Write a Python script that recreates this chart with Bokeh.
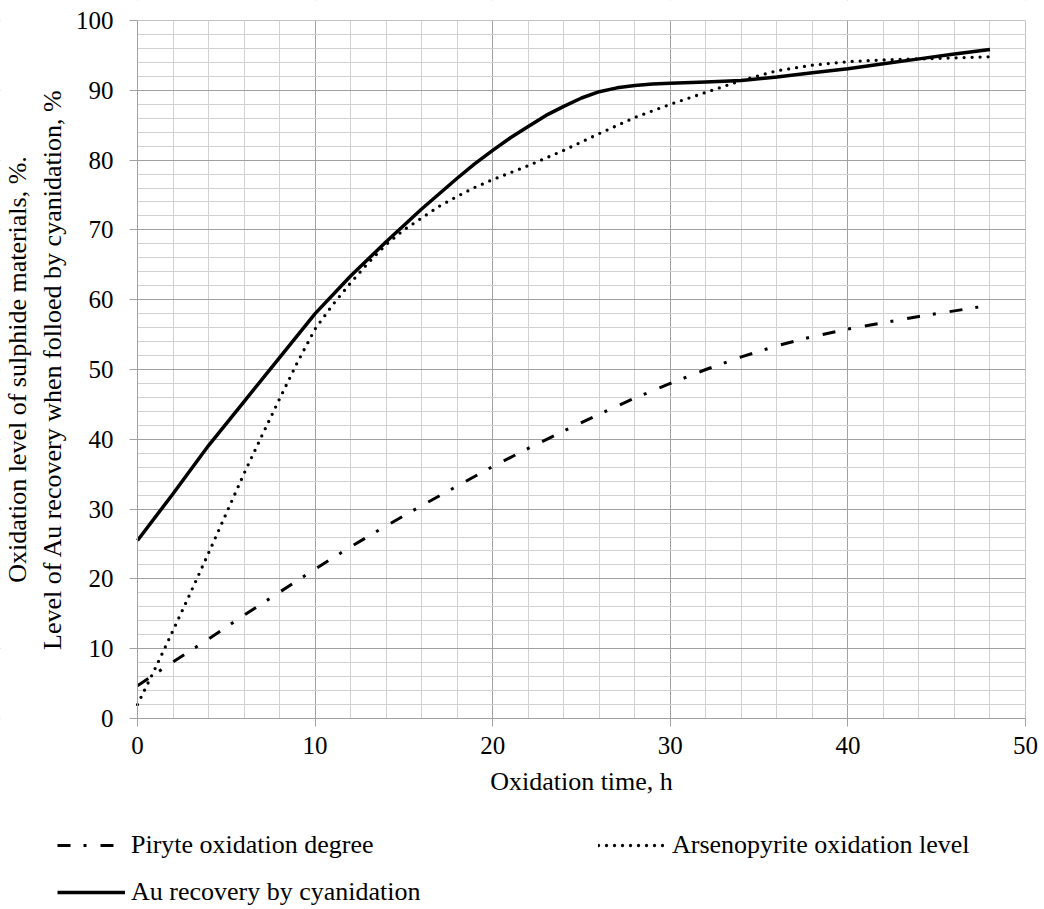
from bokeh.plotting import figure
from bokeh.models import Legend, LegendItem, SingleIntervalTicker, BoxAnnotation
from bokeh.embed import file_html
from bokeh.resources import INLINE

# Pyrite oxidation degree (dash-dot)
pyrite_t = [0, 2, 4, 6, 8, 10, 12, 14, 16, 18, 20, 22, 24, 26, 28, 30, 32, 34, 36, 38, 40, 42, 44, 46, 48]
pyrite_v = [4.7, 8.1, 11.4, 14.8, 18.1, 21.4, 24.6, 27.6, 30.5, 33.3, 36.1, 38.7, 41.2, 43.6, 45.9, 48.0,
            50.0, 51.8, 53.4, 54.7, 55.8, 56.7, 57.6, 58.4, 59.2]

# Arsenopyrite oxidation level (dotted)
arseno_t = [0, 1, 2, 3, 4, 5, 6, 7, 8, 9, 10, 11, 12, 13, 14, 15, 16, 17, 18, 19, 20, 22, 24, 26, 28, 30,
            32, 34, 36, 38, 40, 42, 44, 46, 48]
arseno_v = [2.0, 7.2, 12.6, 18.1, 23.7, 29.4, 35.1, 40.5, 45.8, 51.0, 55.8, 59.3, 62.4, 65.3, 67.9, 70.0,
            71.7, 73.4, 74.8, 76.1, 77.2, 79.2, 81.4, 83.8, 86.1, 88.0, 89.7, 91.4, 92.8, 93.6, 94.1,
            94.35, 94.5, 94.65, 94.8]

# Au recovery by cyanidation (solid)
au_t = [0, 2, 4, 6, 8, 10, 12, 14, 16, 18, 19, 20, 21, 22, 23, 24, 25, 26, 27, 28, 29, 30, 32, 34, 36, 38,
        40, 42, 44, 46, 48]
au_v = [25.5, 32.2, 39.1, 45.4, 51.7, 58.0, 63.4, 68.3, 73.0, 77.4, 79.5, 81.4, 83.2, 84.8, 86.4, 87.7,
        88.9, 89.8, 90.35, 90.7, 90.9, 91.0, 91.2, 91.4, 91.9, 92.5, 93.1, 93.8, 94.5, 95.2, 95.85]

x_label = "Oxidation time, h"
y_label = "Oxidation level of sulphide materials, %.\nLevel of Au recovery when folloed by cyanidation, %"
names = ["Piryte oxidation degree", "Arsenopyrite oxidation level", "Au recovery by cyanidation"]

FONT = "Liberation Serif"

# Layout (pixels): the frame covers the whole canvas so that tick labels, axis titles and the
# legend keys around the data area are not clipped; the data area spans 0..50 x 0..100.
W, H = 1044, 909
AREA_LEFT, AREA_RIGHT = 137, 1025    # data-area edges (canvas px)
AREA_TOP, AREA_BOTTOM = 20, 718
px_per_x = (AREA_RIGHT - AREA_LEFT) / 50.0
px_per_y = (AREA_BOTTOM - AREA_TOP) / 100.0
x_lo = -AREA_LEFT / px_per_x
x_hi = 50 + (W - AREA_RIGHT) / px_per_x
y_lo = -(H - AREA_BOTTOM) / px_per_y
y_hi = 100 + AREA_TOP / px_per_y

p = figure(width=W, height=H, x_range=(x_lo, x_hi), y_range=(y_lo, y_hi),
           output_backend="svg", toolbar_location=None,
           min_border_left=0, min_border_right=0, min_border_top=0, min_border_bottom=0)

p.background_fill_color = "white"
p.border_fill_color = "white"
p.outline_line_color = None

for ax in (p.xaxis[0], p.yaxis[0]):
    ax.ticker = SingleIntervalTicker(interval=10, num_minor_ticks=5)
    ax.fixed_location = 0
    ax.axis_line_color = "#a0a0a0"
    ax.major_tick_line_color = "#a0a0a0"
    ax.major_tick_out = 8
    ax.major_tick_in = 0
    ax.minor_tick_out = 0
    ax.minor_tick_in = 0
    ax.major_label_text_font = FONT
    ax.major_label_text_font_size = "25px"
    ax.major_label_text_color = "black"
    ax.axis_label_text_font = FONT
    ax.axis_label_text_font_size = "26px"
    ax.axis_label_text_font_style = "normal"
    ax.axis_label_text_color = "black"

p.xaxis.bounds = (0, 50)
p.yaxis.bounds = (0, 100)
p.xaxis.axis_label = x_label
p.yaxis.axis_label = y_label
p.xaxis.major_label_standoff = 10
p.xaxis.axis_label_standoff = 10
p.yaxis.major_label_standoff = 16
p.yaxis.axis_label_standoff = 6

for g in (p.xgrid[0], p.ygrid[0]):
    g.ticker = SingleIntervalTicker(interval=10, num_minor_ticks=5)
    g.grid_line_color = "#a0a0a0"
    g.grid_line_width = 1
    g.minor_grid_line_color = "#d0d0d0"
    g.minor_grid_line_width = 1

# white masks over the part of the frame outside the data area (hide grid there)
mask = dict(fill_color="white", fill_alpha=1, line_alpha=0, level="underlay")
p.add_layout(BoxAnnotation(right=0, **mask))
p.add_layout(BoxAnnotation(left=50, **mask))
p.add_layout(BoxAnnotation(top=0, **mask))
p.add_layout(BoxAnnotation(bottom=100, **mask))
# plot-area border
p.add_layout(BoxAnnotation(left=0, right=50, bottom=0, top=100, fill_alpha=0,
                           line_color="#a6a6a6", line_width=1, level="underlay"))

r1 = p.line(pyrite_t, pyrite_v, line_color="black", line_width=3, line_dash="13 13 3 14")
r2 = p.line(arseno_t, arseno_v, line_color="black", line_width=3.3, line_dash="0 8", line_cap="round")
r3 = p.line(au_t, au_v, line_color="black", line_width=3.5)

common = dict(orientation="vertical", glyph_width=68, glyph_height=30, label_height=30,
              padding=0, margin=0, spacing=0, label_standoff=6,
              border_line_alpha=0, background_fill_alpha=0,
              label_text_font=FONT, label_text_font_size="26px", label_text_color="black")

legA = Legend(items=[LegendItem(label=names[0], renderers=[r1])], location=(57, 49), **common)
legB = Legend(items=[LegendItem(label=names[1], renderers=[r2])], location=(598, 49), **common)
legC = Legend(items=[LegendItem(label=names[2], renderers=[r3])], location=(57, 2), **common)
p.add_layout(legA)
p.add_layout(legB)
p.add_layout(legC)

open("out.html", "w").write(file_html(p, INLINE))
